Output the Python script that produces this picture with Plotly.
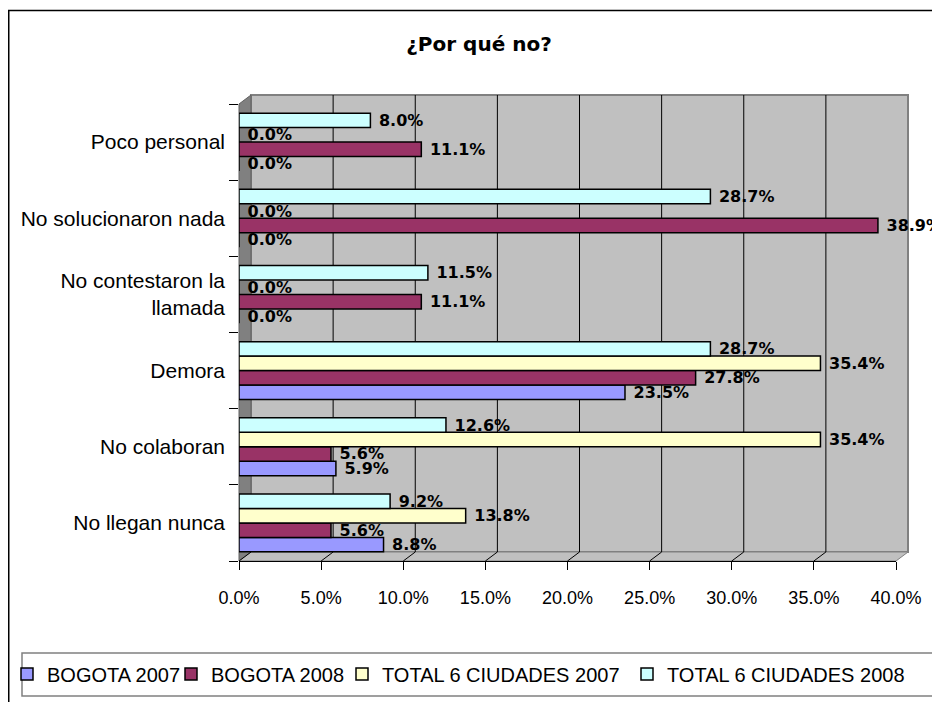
import plotly.graph_objects as go

# ---------------- data ----------------
categories = ["No llegan nunca", "No colaboran", "Demora",
              "No contestaron la<br>llamada", "No solucionaron nada", "Poco personal"]
bogota_2007 = [8.8, 5.9, 23.5, 0.0, 0.0, 0.0]
bogota_2008 = [5.6, 5.6, 27.8, 11.1, 38.9, 11.1]
total_2007 = [13.8, 35.4, 35.4, 0.0, 0.0, 0.0]
total_2008 = [9.2, 12.6, 28.7, 11.5, 28.7, 8.0]
series_names = ["BOGOTA 2007", "BOGOTA 2008", "TOTAL 6 CIUDADES 2007", "TOTAL 6 CIUDADES 2008"]
series_values = [bogota_2007, bogota_2008, total_2007, total_2008]
series_colors = ["#9999FF", "#993366", "#FFFFCC", "#CCFFFF"]
x_ticks = [0, 5, 10, 15, 20, 25, 30, 35, 40]
x_tick_labels = ["0.0%", "5.0%", "10.0%", "15.0%", "20.0%", "25.0%", "30.0%", "35.0%", "40.0%"]
title_text = "¿Por qué no?"

# ---------------- layout geometry (page pixels; page has an 8px body margin) ----------------
OFF = 8
W, H = 940 - OFF, 702 - OFF
L, R, T, B = 239, 896, 104, 561   # plot area in page pixels
DX, DY = 12, 9                      # 3D depth offset
legend_text_starts = [47, 211, 382, 667]  # page px where each legend text begins
legend_mid_y = 674


def xp(px):
    return (px - L) / (R - L)


def yp(py):
    return (B - py) / (B - T)


fig = go.Figure()
legend_ids = ["legend", "legend2", "legend3", "legend4"]
for name, vals, col, lg in zip(series_names, series_values, series_colors, legend_ids):
    fig.add_trace(go.Bar(
        y=categories, x=vals, name=name, orientation="h", legend=lg,
        marker=dict(color=col, line=dict(color="black", width=1.5)),
        texttemplate=" %{x:.1f}%", textposition="outside",
        textfont=dict(family="DejaVu Sans", size=16, color="black", weight="bold"),
        constraintext="none", cliponaxis=False,
    ))

shapes = []
# outer chart border (top and left visible)
shapes.append(dict(type="path", xref="paper", yref="paper",
                   path=f"M {xp(8.75)} {yp(720)} L {xp(8.75)} {yp(10.5)} L {xp(960)} {yp(10.5)}",
                   line=dict(color="black", width=1.5), layer="below"))
# back wall
shapes.append(dict(type="rect", xref="paper", yref="paper",
                   x0=xp(L + DX), x1=xp(R + DX), y0=yp(B - DY), y1=yp(T - DY),
                   fillcolor="#C0C0C0", line=dict(color="#808080", width=2), layer="below"))
# left wall
shapes.append(dict(type="path", xref="paper", yref="paper",
                   path=(f"M {xp(L)} {yp(B)} L {xp(L)} {yp(T)} L {xp(L + DX)} {yp(T - DY)} "
                         f"L {xp(L + DX)} {yp(B - DY)} Z"),
                   fillcolor="#808080", line=dict(color="#606060", width=1), layer="below"))
# floor
shapes.append(dict(type="path", xref="paper", yref="paper",
                   path=(f"M {xp(L)} {yp(B)} L {xp(L + DX)} {yp(B - DY)} L {xp(R + DX)} {yp(B - DY)} "
                         f"L {xp(R)} {yp(B)} Z"),
                   fillcolor="#C0C0C0", line=dict(color="#808080", width=1), layer="below"))
# gridlines on back wall + floor diagonals
for t in x_ticks[1:]:
    shapes.append(dict(type="line", xref="x", xsizemode="pixel", xanchor=t, x0=DX, x1=DX,
                       yref="paper", y0=yp(B - DY), y1=yp(T - DY),
                       line=dict(color="black", width=1), layer="below"))
for t in x_ticks:
    shapes.append(dict(type="line", xref="x", xsizemode="pixel", xanchor=t, x0=0, x1=DX,
                       yref="paper", y0=yp(B), y1=yp(B - DY),
                       line=dict(color="black", width=1), layer="below"))
# legend box
shapes.append(dict(type="rect", xref="paper", yref="paper",
                   x0=xp(22), x1=xp(936), y0=yp(696), y1=yp(653),
                   line=dict(color="#808080", width=1.5), fillcolor="white", layer="below"))

legend_style = dict(orientation="h", xanchor="left", yanchor="middle", y=yp(legend_mid_y),
                    font=dict(family="Liberation Sans, Arial, sans-serif", size=20, color="black"),
                    bgcolor="rgba(0,0,0,0)", borderwidth=0, itemwidth=30)

fig.update_layout(
    width=W, height=H,
    margin=dict(l=L - OFF, r=940 - R, t=T - OFF, b=702 - B, pad=0, autoexpand=False),
    paper_bgcolor="white", plot_bgcolor="rgba(0,0,0,0)",
    barmode="group", bargap=0.24, bargroupgap=0,
    font=dict(family="Liberation Sans, Arial, sans-serif", size=18, color="black"),
    title=dict(text=title_text, x=(479 - OFF) / W, xanchor="center",
               y=1 - (44 - OFF) / H, yanchor="middle",
               font=dict(family="DejaVu Sans", size=20, color="black", weight="bold")),
    xaxis=dict(range=[0, 40], tickvals=x_ticks, ticktext=x_tick_labels,
               showgrid=False, zeroline=False, showline=True, linecolor="black", linewidth=1,
               ticks="outside", ticklen=8, tickcolor="black", ticklabelstandoff=12,
               tickfont=dict(size=18), automargin=False),
    yaxis=dict(type="category", categoryorder="array", categoryarray=categories,
               showgrid=False, zeroline=False, showline=False,
               ticks="outside", tickson="boundaries", ticklen=9, tickcolor="black",
               ticklabelstandoff=13, tickfont=dict(size=21), automargin=False),
    legend=dict(legend_style, x=xp(legend_text_starts[0] - 40)),
    legend2=dict(legend_style, x=xp(legend_text_starts[1] - 40)),
    legend3=dict(legend_style, x=xp(legend_text_starts[2] - 40)),
    legend4=dict(legend_style, x=xp(legend_text_starts[3] - 40)),
    shapes=shapes,
    showlegend=True,
)

fig.write_html("out.html")
